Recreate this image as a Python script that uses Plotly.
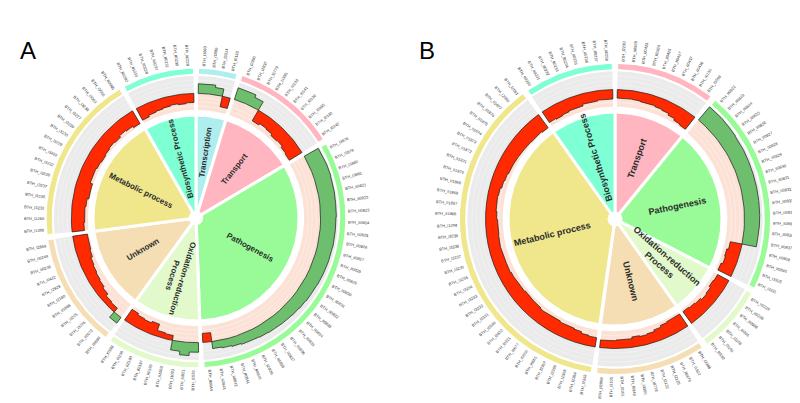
import numpy as np
import plotly.graph_objects as go

# ---------------- Panel A (sectors clockwise from 12 o'clock) ----------------
A_categories = ["Transcription", "Transport", "Pathogenesis", "Oxidation-reduction<br>Process",
                "Unknown", "Metabolic process", "Biosynthetic Process"]
A_colors = ["#AFEEEE", "#FFB6C1", "#98FB98", "#E2F9CC", "#F5DEB3", "#F0E68C", "#7FFFD4"]

A_transcription_genes = ["BTH_I1660", "BTH_I1880", "BTH_I3314", "BTH_I0133"]
A_transcription_fc = [0.55, 0.55, 0.42, -0.65]

A_transport_genes = ["BTH_I2990", "BTH_I2837", "BTH_I2779", "BTH_I1885", "BTH_I0138",
                     "BTH_I0141", "BTH_I0139", "BTH_I0335", "BTH_I0140", "BTH_I0142"]
A_transport_fc = [0.7, 0.7, 0.55, -0.75, -0.65, -0.7, -0.8, -0.75, -0.85, -0.9]

A_pathogenesis_genes = ["BTH_I3876", "BTH_I3879", "BTH_I3880", "BTH_I3881", "BTH_II0821",
                        "BTH_II0822", "BTH_II0823", "BTH_II0824", "BTH_II0825", "BTH_II0826",
                        "BTH_II0827", "BTH_II0828", "BTH_II0829", "BTH_II0830", "BTH_II0831",
                        "BTH_II0832", "BTH_II0833", "BTH_II0834", "BTH_II0835", "BTH_II0836",
                        "BTH_II0837", "BTH_II0838", "BTH_II0839", "BTH_II0840", "BTH_II0841",
                        "BTH_II0842", "BTH_II0843", "BTH_II0844"]
A_pathogenesis_fc = [0.92, 0.95, 0.95, 0.93, 0.92, 0.9, 0.9, 0.88, 0.87, 0.87, 0.85, 0.84,
                     0.82, 0.8, 0.78, 0.76, 0.73, 0.7, 0.68, 0.66, 0.63, 0.6, 0.57, 0.55,
                     0.5, 0.45, 0.4, -0.55]

A_oxidation_genes = ["BTH_I1020", "BTH_I1021", "BTH_I1003", "BTH_II1593", "BTH_II0199",
                     "BTH_II2187", "BTH_II2190", "BTH_I0238", "BTH_I0388"]
A_oxidation_fc = [0.55, 0.75, 0.55, -0.3, -0.35, -0.75, -0.65, -0.7, -0.8]

A_unknown_genes = ["BTH_II0880", "BTH_II0072", "BTH_I3226", "BTH_I3225", "BTH_II1886",
                   "BTH_I2180", "BTH_I2929", "BTH_I0422", "BTH_II0238", "BTH_II0249", "BTH_I2869"]
A_unknown_fc = [0.4, -0.3, -0.35, -0.5, -0.6, -0.65, -0.7, -0.75, -0.85, -0.9, -0.9]

A_metabolic_genes = ["BTH_I1366", "BTH_I2265", "BTH_I3233", "BTH_I3235", "BTH_I3237",
                     "BTH_I3236", "BTH_I3232", "BTH_I3222", "BTH_I3229", "BTH_I3230",
                     "BTH_I3239", "BTH_I3227", "BTH_I3238", "BTH_I3063", "BTH_I3066", "BTH_II0965"]
A_metabolic_fc = [-0.75, -0.8, -0.8, -0.85, -0.95, -0.95, -0.8, -0.8, -0.85, -0.9,
                  -0.85, -0.8, -0.85, -0.75, -0.8, -0.9]

A_biosynthetic_genes = ["BTH_II0282", "BTH_II1233", "BTH_II0228", "BTH_II0237",
                        "BTH_II0231", "BTH_II0230", "BTH_II0229"]
A_biosynthetic_fc = [-0.8, -0.7, -0.65, -0.6, -0.55, -0.6, -0.55]

# ---------------- Panel B ----------------
B_categories = ["Transport", "Pathogenesis", "Oxidation-reduction<br>Process", "Unknown",
                "Metabolic process", "Biosynthetic Process"]
B_colors = ["#FFB6C1", "#98FB98", "#E2F9CC", "#F5DEB3", "#F0E68C", "#7FFFD4"]

B_transport_genes = ["BTH_I2230", "BTH_II0928", "BTH_II0423", "BTH_II0424", "BTH_II0425",
                     "BTH_II0427", "BTH_II0437", "BTH_II0436", "BTH_I0135", "BTH_I0568"]
B_transport_fc = [-0.5, -0.5, -0.52, -0.55, -0.55, -0.6, -0.65, -0.75, -0.85, -0.9]

B_pathogenesis_genes = ["BTH_II0822", "BTH_II0823", "BTH_II0824", "BTH_II0825", "BTH_II0826",
                        "BTH_II0827", "BTH_II0828", "BTH_II0829", "BTH_II0830", "BTH_II0831",
                        "BTH_II0832", "BTH_II0833", "BTH_II0834", "BTH_II0835", "BTH_II0836",
                        "BTH_II0837", "BTH_II0838", "BTH_II0840", "BTH_I1925", "BTH_I3331"]
B_pathogenesis_fc = [0.95, 0.95, 0.93, 0.92, 0.9, 0.9, 0.88, 0.88, 0.87, 0.86, 0.85, 0.85,
                     0.84, 0.83, 0.82, 0.8, -0.7, -0.8, -0.75, -0.85]

B_oxidation_genes = ["BTH_II0229", "BTH_II0226", "BTH_II0608", "BTH_I0304", "BTH_I3156",
                     "BTH_I3145", "BTH_I0530"]
B_oxidation_fc = [-0.75, -0.8, -0.7, -0.65, -0.75, -0.8, -0.85]

B_unknown_genes = ["BTH_I2386", "BTH_I1922", "BTH_II0679", "BTH_I2125", "BTH_I2122",
                   "BTH_I0718", "BTH_I3300", "BTH_I0349", "BTH_I3101", "BTH_I3105", "BTH_II2069"]
B_unknown_fc = [-0.85, -0.85, -0.8, -0.7, -0.6, -0.55, -0.6, -0.5, -0.5, -0.45, -0.45]

B_metabolic_genes = ["BTH_I2363", "BTH_I2364", "BTH_I2365", "BTH_I2366", "BTH_I2367",
                     "BTH_I0661", "BTH_I0650", "BTH_I0677", "BTH_I0321", "BTH_I0322",
                     "BTH_I0330", "BTH_I0331", "BTH_I3232", "BTH_I3233", "BTH_I3234",
                     "BTH_I3235", "BTH_I3236", "BTH_I3237", "BTH_I3238", "BTH_I3239",
                     "BTH_I1298", "BTH_II1866", "BTH_II1867", "BTH_II1868", "BTH_II1869",
                     "BTH_II1870", "BTH_II1871", "BTH_II1872", "BTH_II1873", "BTH_II1874",
                     "BTH_II1875", "BTH_II1876", "BTH_II1877", "BTH_I2080", "BTH_I2081"]
B_metabolic_fc = [-0.55, -0.6, -0.7, -0.75, -0.75, -0.8, -0.78, -0.75, -0.8, -0.82,
                  -0.85, -0.8, -0.78, -0.75, -0.7, -0.72, -0.7, -0.68, -0.7, -0.72,
                  -0.7, -0.65, -0.6, -0.58, -0.62, -0.7, -0.75, -0.8, -0.82, -0.85,
                  -0.88, -0.9, -0.92, -0.9, -0.95]

B_biosynthetic_genes = ["BTH_II0230", "BTH_II0231", "BTH_II0232", "BTH_II0233", "BTH_II0234",
                        "BTH_II0235", "BTH_II0236", "BTH_II0237", "BTH_II0238"]
B_biosynthetic_fc = [-0.75, -0.8, -0.75, -0.7, -0.7, -0.6, -0.6, -0.55, -0.55]

A_genes = [A_transcription_genes, A_transport_genes, A_pathogenesis_genes, A_oxidation_genes,
           A_unknown_genes, A_metabolic_genes, A_biosynthetic_genes]
A_fc = [A_transcription_fc, A_transport_fc, A_pathogenesis_fc, A_oxidation_fc,
        A_unknown_fc, A_metabolic_fc, A_biosynthetic_fc]
B_genes = [B_transport_genes, B_pathogenesis_genes, B_oxidation_genes, B_unknown_genes,
           B_metabolic_genes, B_biosynthetic_genes]
B_fc = [B_transport_fc, B_pathogenesis_fc, B_oxidation_fc, B_unknown_fc,
        B_metabolic_fc, B_biosynthetic_fc]

# ---------------- geometry (units of pie radius) ----------------
R_HOLE, R_PIE = 0.07, 1.0
R_IN, R_BASE, R_OUT = 1.05, 1.21, 1.38
R_B0, R_B1, R_LAB = 1.40, 1.45, 1.48
GAP, BGAP = 2.0, 2.4
RED, GREEN = "#FF2A00", "#6DBF6D"
PEACH, GRAY = "#FCE2D6", "#EBEBEB"

W, H = 800, 403


def pol(r, th):
    t = np.radians(th)
    return r * np.sin(t), r * np.cos(t)


def wedge(r0, r1, a0, a1):
    th = np.linspace(a0, a1, max(8, int(abs(a1 - a0) / 0.4)))
    xo, yo = pol(r1, th)
    if r0 <= 0:
        return np.r_[0, xo, 0], np.r_[0, yo, 0]
    xi, yi = pol(r0, th[::-1])
    return np.r_[xo, xi, xo[:1]], np.r_[yo, yi, yo[:1]]


def poly(fig, xs, ys, fill, lc, lw, xa, ya):
    fig.add_trace(go.Scatter(x=xs, y=ys, mode="lines", fill="toself", fillcolor=fill,
                             line=dict(color=lc, width=lw), hoverinfo="skip",
                             showlegend=False, xaxis=xa, yaxis=ya))


def norm_angle(a):
    return ((a + 180) % 360) - 180


def add_panel(fig, cats, colors, genes_list, fc_list, xa, ya, scale, cat_fs):
    counts = [len(g) for g in genes_list]
    unit = 360.0 / sum(counts)
    start = 0.0
    anns = []
    axr = dict(xref=xa, yref=ya)
    for cat, col, genes, fc, n in zip(cats, colors, genes_list, fc_list, counts):
        a0, a1 = start, start + n * unit
        start = a1
        # pie sector
        xs, ys = wedge(0, R_PIE, a0, a1)
        poly(fig, xs, ys, col, "white", 3, xa, ya)
        # track background
        t0, t1 = a0 + GAP / 2, a1 - GAP / 2
        xs, ys = wedge(R_IN, R_BASE, t0, t1)
        poly(fig, xs, ys, PEACH, PEACH, 0, xa, ya)
        xs, ys = wedge(R_BASE, R_OUT, t0, t1)
        poly(fig, xs, ys, GRAY, GRAY, 0, xa, ya)
        # faint grid lines
        for rr, lc in [(R_IN + (R_BASE - R_IN) * k / 4, "#FFF1EA") for k in (1, 2, 3)] + \
                      [(R_BASE + (R_OUT - R_BASE) * k / 4, "#F5F5F5") for k in (1, 2, 3)]:
            th = np.linspace(t0, t1, 60)
            gx, gy = pol(rr, th)
            fig.add_trace(go.Scatter(x=gx, y=gy, mode="lines", line=dict(color=lc, width=0.6),
                                     hoverinfo="skip", showlegend=False, xaxis=xa, yaxis=ya))
        # category band
        xs, ys = wedge(R_B0, R_B1, a0 + BGAP / 2, a1 - BGAP / 2)
        poly(fig, xs, ys, col, col, 0, xa, ya)
        # bars as step areas (runs of same sign)
        edges = np.linspace(t0, t1, n + 1)
        i = 0
        while i < n:
            sgn = fc[i] > 0
            j = i
            while j + 1 < n and (fc[j + 1] > 0) == sgn:
                j += 1
            px, py = [], []
            for k in range(i, j + 1):
                v = fc[k]
                r = R_BASE + v * (R_OUT - R_BASE) if v > 0 else R_BASE + v * (R_BASE - R_IN)
                th = np.linspace(edges[k], edges[k + 1], 8)
                x, y = pol(r, th)
                px.extend(x)
                py.extend(y)
            th = np.linspace(edges[j + 1], edges[i], 30)
            x, y = pol(R_BASE, th)
            px.extend(x)
            py.extend(y)
            px.append(px[0])
            py.append(py[0])
            poly(fig, px, py, GREEN if sgn else RED, "#1a1a1a", 0.7, xa, ya)
            i = j + 1
        # gene labels
        for k, g in enumerate(genes):
            th = 0.5 * (edges[k] + edges[k + 1])
            wlen = len(g) * 0.53 * 4.0 / scale
            rc = R_LAB + wlen / 2
            x, y = pol(rc, th)
            ang = th - 90 if th < 180 else th - 270
            anns.append(dict(x=float(x), y=float(y), text=g, showarrow=False,
                             textangle=norm_angle(ang), xanchor="center", yanchor="middle",
                             font=dict(size=4, color="#333333", family="Liberation Sans, Arial"),
                             **axr))
        # category label
        mid = 0.5 * (a0 + a1)
        rl = 0.65 if n * unit < 25 else 0.6
        x, y = pol(rl, mid)
        ang = mid - 90
        if 200 < mid < 330:
            ang = mid - 270
        anns.append(dict(x=float(x), y=float(y), text="<b>" + cat + "</b>", showarrow=False,
                         textangle=norm_angle(ang), xanchor="center", yanchor="middle",
                         font=dict(size=cat_fs, color="#2b2b2b", family="Liberation Sans, Arial"),
                         **axr))
    # centre hole
    th = np.linspace(0, 360, 60)
    cx, cy = pol(R_HOLE, th)
    poly(fig, cx, cy, "white", "white", 0, xa, ya)
    return anns


fig = go.Figure()
sA, cAx, cAy = 103.0, 188.0, 210.0
sB, cBx, cBy = 107.0, 607.0, 211.0
anns = add_panel(fig, A_categories, A_colors, A_genes, A_fc, "x", "y", sA, 8)
anns += add_panel(fig, B_categories, B_colors, B_genes, B_fc, "x2", "y2", sB, 9)

anns.append(dict(x=10 / W, y=1 - 27 / H, xref="paper", yref="paper", text="A", showarrow=False,
                 xanchor="left", yanchor="top", font=dict(size=24, color="black", family="Liberation Sans, Arial")))
anns.append(dict(x=409 / W, y=1 - 27 / H, xref="paper", yref="paper", text="B", showarrow=False,
                 xanchor="left", yanchor="top", font=dict(size=24, color="black", family="Liberation Sans, Arial")))

ax_common = dict(visible=False, showgrid=False, zeroline=False, fixedrange=True)
fig.update_layout(
    width=W, height=H, margin=dict(l=0, r=0, t=0, b=0),
    paper_bgcolor="white", plot_bgcolor="white", showlegend=False,
    xaxis=dict(domain=[0, 0.5], range=[-cAx / sA, (400 - cAx) / sA], **ax_common),
    yaxis=dict(domain=[0, 1], range=[-(H - cAy) / sA, cAy / sA], **ax_common),
    xaxis2=dict(domain=[0.5, 1], range=[-(cBx - 400) / sB, (800 - cBx) / sB], anchor="y2", **ax_common),
    yaxis2=dict(domain=[0, 1], range=[-(H - cBy) / sB, cBy / sB], anchor="x2", **ax_common),
    annotations=anns,
)
fig.write_html("out.html")
